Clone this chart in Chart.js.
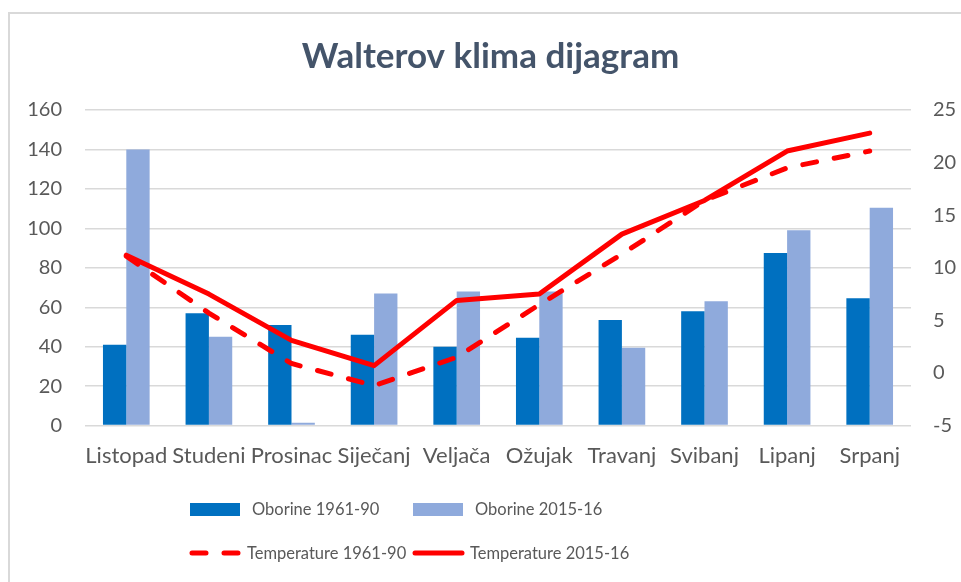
<!DOCTYPE html>
<html>
<head>
<meta charset="utf-8">
<title>Walterov klima dijagram</title>
<script src="https://cdn.jsdelivr.net/npm/chart.js@4.4.1/dist/chart.umd.min.js"></script>
<style>
  html, body { margin: 0; padding: 0; background: #fff; overflow: hidden; }
  #frame {
    position: absolute; left: 8px; top: 12px; width: 1000px; height: 620px;
    border-left: 2px solid #d9d9d9; border-top: 2px solid #d9d9d9;
  }
  #wrap { position: absolute; left: 0; top: 0; width: 961px; height: 582px; }
</style>
</head>
<body>
<div id="frame"></div>
<div id="wrap"><canvas id="chart" width="961" height="582"></canvas></div>
<script>
// ======= Data =======
const MONTHS = ["Listopad", "Studeni", "Prosinac", "Siječanj", "Veljača",
                "Ožujak", "Travanj", "Svibanj", "Lipanj", "Srpanj"];
const RAIN_1961_90 = [41, 57, 51, 46, 40, 44.5, 53.5, 58, 87.5, 64.5];
const RAIN_2015_16 = [140, 45, 1.5, 67, 68, 68, 39.5, 63, 99, 110.5];
const TEMP_1961_90 = [11.1, 5.7, 0.9, -1.2, 1.5, 6.5, 11.3, 16.4, 19.5, 21.1];
const TEMP_2015_16 = [11.2, 7.5, 3.1, 0.7, 6.9, 7.5, 13.2, 16.4, 21.1, 22.8];
const LEFT_TICKS  = { min: 0, max: 160, step: 20 };
const RIGHT_TICKS = { min: -5, max: 25, step: 5 };

const FONT = "Lato, 'Open Sans', sans-serif";
const GREY = "#595959";

// custom two-row legend, laid out like the original
const legendGrid = {
  id: "legendGrid",
  afterDraw(chart) {
    const ctx = chart.ctx;
    const cols = [189, 412], rows = [509, 553];
    // order in the legend: bars first, then lines
    const order = [2, 3, 0, 1];
    ctx.save();
    ctx.font = "16.5px " + FONT;
    ctx.textBaseline = "middle";
    order.forEach((di, i) => {
      const ds = chart.data.datasets[di];
      const x = cols[i % 2], y = rows[Math.floor(i / 2)];
      if (ds.type === "bar") {
        ctx.fillStyle = ds.backgroundColor;
        ctx.fillRect(x + 1, y - 6, 50, 13);
      } else {
        ctx.strokeStyle = ds.borderColor;
        ctx.lineWidth = 5;
        ctx.lineCap = "round";
        ctx.setLineDash(ds.borderDash || []);
        ctx.beginPath();
        ctx.moveTo(x + 3, y);
        ctx.lineTo(x + 50, y);
        ctx.stroke();
        ctx.setLineDash([]);
      }
      ctx.fillStyle = GREY;
      ctx.fillText(ds.label, x + (ds.type === "bar" ? 63 : 58), y + 1);
    });
    ctx.restore();
  }
};

const ctx = document.getElementById("chart").getContext("2d");
new Chart(ctx, {
  data: {
    labels: MONTHS,
    datasets: [
      { type: "line", label: "Temperature 1961-90", data: TEMP_1961_90, yAxisID: "y2",
        borderColor: "#ff0000", borderWidth: 5, borderDash: [14, 18], borderCapStyle: "round",
        pointRadius: 0, tension: 0, order: 0 },
      { type: "line", label: "Temperature 2015-16", data: TEMP_2015_16, yAxisID: "y2",
        borderColor: "#ff0000", borderWidth: 5, borderCapStyle: "round", borderJoinStyle: "round",
        pointRadius: 0, tension: 0, order: 0 },
      { type: "bar", label: "Oborine 1961-90", data: RAIN_1961_90, yAxisID: "y",
        backgroundColor: "#0070c0", categoryPercentage: 0.565, barPercentage: 1, order: 1 },
      { type: "bar", label: "Oborine 2015-16", data: RAIN_2015_16, yAxisID: "y",
        backgroundColor: "#8faadc", categoryPercentage: 0.565, barPercentage: 1, order: 1 }
    ]
  },
  options: {
    responsive: false,
    animation: false,
    layout: { padding: { top: 0, left: 20, right: 0, bottom: 96 } },
    plugins: {
      legend: { display: false },
      tooltip: { enabled: false },
      title: {
        display: true,
        text: "Walterov klima dijagram",
        color: "#44546a",
        font: { family: FONT, size: 35, weight: "bold" },
        padding: { top: 36, bottom: 32 }
      }
    },
    scales: {
      x: {
        grid: { display: false, drawTicks: false },
        border: { display: false },
        ticks: { color: GREY, font: { family: FONT, size: 22 }, padding: 17, maxRotation: 0, autoSkip: false }
      },
      y: {
        position: "left",
        min: LEFT_TICKS.min, max: LEFT_TICKS.max,
        afterFit: s => { s.width = 65; },
        grid: { color: "#d9d9d9", lineWidth: 1.5, drawTicks: false },
        border: { display: false },
        ticks: { stepSize: LEFT_TICKS.step, color: GREY, font: { family: FONT, size: 20 }, padding: 23 }
      },
      y2: {
        position: "right",
        min: RIGHT_TICKS.min, max: RIGHT_TICKS.max,
        afterFit: s => { s.width = 50; },
        grid: { display: false, drawTicks: false },
        border: { display: false },
        ticks: { stepSize: RIGHT_TICKS.step, color: GREY, font: { family: FONT, size: 20 }, padding: 22 }
      }
    }
  },
  plugins: [legendGrid]
});
</script>
</body>
</html>
